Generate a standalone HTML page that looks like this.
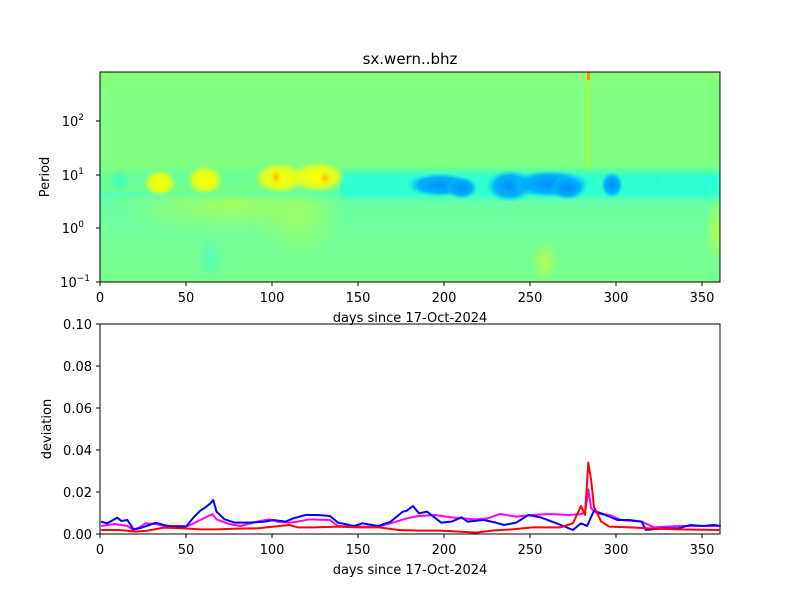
<!DOCTYPE html>
<html><head><meta charset="utf-8"><style>
body{margin:0;background:#fff;}
svg{display:block;font-family:"DejaVu Sans","Liberation Sans",sans-serif;}
</style></head><body>
<svg width="800" height="600" viewBox="0 0 800 600">
<defs>
<radialGradient id="gy"><stop offset="0" stop-color="#ffff00"/><stop offset="0.65" stop-color="#f0ff10" stop-opacity="0.85"/><stop offset="1" stop-color="#f0ff10" stop-opacity="0"/></radialGradient>
<radialGradient id="go"><stop offset="0" stop-color="#ffb400"/><stop offset="1" stop-color="#ffd000" stop-opacity="0"/></radialGradient>
<radialGradient id="gb"><stop offset="0" stop-color="#0090ff"/><stop offset="0.65" stop-color="#00a8ff" stop-opacity="0.9"/><stop offset="1" stop-color="#00d0ff" stop-opacity="0"/></radialGradient>
<radialGradient id="gc"><stop offset="0" stop-color="#20ffe0"/><stop offset="1" stop-color="#20ffe0" stop-opacity="0"/></radialGradient>
<radialGradient id="gyg"><stop offset="0" stop-color="#b0ff50"/><stop offset="1" stop-color="#b0ff50" stop-opacity="0"/></radialGradient>
<radialGradient id="gbg"><stop offset="0" stop-color="#50ffb8"/><stop offset="1" stop-color="#50ffb8" stop-opacity="0"/></radialGradient>
<linearGradient id="band" x1="0" y1="0" x2="0" y2="1"><stop offset="0" stop-color="#30ffd0" stop-opacity="0"/><stop offset="0.3" stop-color="#30ffd0"/><stop offset="0.75" stop-color="#30ffd0"/><stop offset="1" stop-color="#30ffd0" stop-opacity="0"/></linearGradient>
<linearGradient id="low" x1="0" y1="0" x2="0" y2="1"><stop offset="0" stop-color="#66ffa8"/><stop offset="0.5" stop-color="#74ff98"/><stop offset="1" stop-color="#78ff8c"/></linearGradient>
<clipPath id="c"><rect x="100" y="72" width="620" height="210"/></clipPath>
</defs>
<text x="410" y="64" font-size="15" text-anchor="middle">sx.wern..bhz</text>
<g clip-path="url(#c)">
<rect x="100" y="72" width="620" height="210" fill="#80ff80"/>
<rect x="100" y="72" width="620" height="10" fill="#88ff78"/>
<rect x="100" y="192" width="620" height="90" fill="url(#low)"/>
<ellipse cx="230" cy="205" rx="120" ry="30" fill="url(#gyg)" opacity="0.8"/>
<ellipse cx="300" cy="220" rx="45" ry="40" fill="url(#gyg)" opacity="0.6"/>
<ellipse cx="210" cy="258" rx="14" ry="22" fill="url(#gbg)"/>
<ellipse cx="545" cy="262" rx="14" ry="22" fill="url(#gyg)"/>
<ellipse cx="716" cy="230" rx="10" ry="35" fill="url(#gyg)"/>
<rect x="585" y="72" width="6" height="120" fill="#a0ff50" opacity="0.6"/>
<rect x="100" y="166" width="620" height="36" fill="url(#band)" opacity="0.3"/>
<rect x="340" y="166" width="380" height="36" fill="url(#band)"/>
<ellipse cx="120" cy="180" rx="10" ry="11" fill="url(#gc)" opacity="0.7"/>
<ellipse cx="160" cy="183" rx="16" ry="13" fill="url(#gy)"/>
<ellipse cx="205" cy="180" rx="18" ry="14" fill="url(#gy)"/>
<ellipse cx="280" cy="178" rx="26" ry="15" fill="url(#gy)"/>
<ellipse cx="318" cy="177" rx="28" ry="15" fill="url(#gy)"/>
<ellipse cx="276" cy="177" rx="6" ry="7" fill="url(#go)"/>
<ellipse cx="325" cy="178" rx="6" ry="6" fill="url(#go)"/>
<ellipse cx="440" cy="185" rx="34" ry="12" fill="url(#gb)"/>
<ellipse cx="462" cy="188" rx="16" ry="11" fill="url(#gb)"/>
<ellipse cx="510" cy="186" rx="24" ry="16" fill="url(#gb)"/>
<ellipse cx="550" cy="184" rx="40" ry="14" fill="url(#gb)"/>
<ellipse cx="568" cy="188" rx="18" ry="12" fill="url(#gb)"/>
<ellipse cx="612" cy="185" rx="11" ry="13" fill="url(#gb)"/>
<ellipse cx="655" cy="180" rx="8" ry="8" fill="url(#gc)"/>
<ellipse cx="710" cy="180" rx="8" ry="8" fill="url(#gc)"/>
<rect x="587" y="72" width="3" height="8" fill="#ff9000"/>
</g>
<rect x="100" y="72" width="620" height="210" fill="none" stroke="#000" stroke-width="1"/>
<g stroke="#000" stroke-width="1">
<line x1="100" y1="282" x2="100" y2="286"/><line x1="186" y1="282" x2="186" y2="286"/><line x1="272" y1="282" x2="272" y2="286"/><line x1="358" y1="282" x2="358" y2="286"/><line x1="444" y1="282" x2="444" y2="286"/><line x1="530" y1="282" x2="530" y2="286"/><line x1="616" y1="282" x2="616" y2="286"/><line x1="702" y1="282" x2="702" y2="286"/>
<line x1="96" y1="121" x2="100" y2="121"/><line x1="96" y1="175" x2="100" y2="175"/><line x1="96" y1="228" x2="100" y2="228"/><line x1="96" y1="282" x2="100" y2="282"/>
</g>
<g font-size="13" text-anchor="middle">
<text x="100" y="302">0</text><text x="186" y="302">50</text><text x="272" y="302">100</text><text x="358" y="302">150</text><text x="444" y="302">200</text><text x="530" y="302">250</text><text x="616" y="302">300</text><text x="702" y="302">350</text>
<text x="410" y="322">days since 17-Oct-2024</text>
</g>
<g font-size="13" text-anchor="end">
<text x="84" y="126">10<tspan font-size="9" dy="-6">2</tspan></text>
<text x="84" y="180">10<tspan font-size="9" dy="-6">1</tspan></text>
<text x="84" y="233">10<tspan font-size="9" dy="-6">0</tspan></text>
<text x="90" y="287">10<tspan font-size="9" dy="-6">−1</tspan></text>
</g>
<text transform="translate(49,177) rotate(-90)" font-size="13" text-anchor="middle">Period</text>

<rect x="100" y="324" width="620" height="210" fill="none" stroke="#000" stroke-width="1"/>
<g stroke="#000" stroke-width="1">
<line x1="100" y1="534" x2="100" y2="538"/><line x1="186" y1="534" x2="186" y2="538"/><line x1="272" y1="534" x2="272" y2="538"/><line x1="358" y1="534" x2="358" y2="538"/><line x1="444" y1="534" x2="444" y2="538"/><line x1="530" y1="534" x2="530" y2="538"/><line x1="616" y1="534" x2="616" y2="538"/><line x1="702" y1="534" x2="702" y2="538"/>
<line x1="96" y1="534" x2="100" y2="534"/><line x1="96" y1="492" x2="100" y2="492"/><line x1="96" y1="450" x2="100" y2="450"/><line x1="96" y1="408" x2="100" y2="408"/><line x1="96" y1="366" x2="100" y2="366"/><line x1="96" y1="324" x2="100" y2="324"/>
</g>
<g font-size="13" text-anchor="middle">
<text x="100" y="554">0</text><text x="186" y="554">50</text><text x="272" y="554">100</text><text x="358" y="554">150</text><text x="444" y="554">200</text><text x="530" y="554">250</text><text x="616" y="554">300</text><text x="702" y="554">350</text>
<text x="410" y="574">days since 17-Oct-2024</text>
</g>
<g font-size="13" text-anchor="end">
<text x="92" y="539">0.00</text><text x="92" y="497">0.02</text><text x="92" y="455">0.04</text><text x="92" y="413">0.06</text><text x="92" y="371">0.08</text><text x="92" y="329">0.10</text>
</g>
<text transform="translate(51,429) rotate(-90)" font-size="13" text-anchor="middle">deviation</text>

<g transform="translate(95,440) scale(0.405,0.3333)" fill="none" stroke-width="2" stroke-linejoin="round">
<polyline vector-effect="non-scaling-stroke" stroke="#ff00ff" points="15,258 50,252 80,258 95,270 110,262 125,250 150,252 170,258 230,258 260,240 290,222 300,238 330,252 360,258 400,245 430,238 450,245 480,248 500,245 530,238 580,240 600,258 640,260 700,260 730,250 770,235 800,228 840,225 880,232 940,238 970,235 1000,222 1040,230 1080,225 1120,222 1170,225 1200,222 1210,218 1218,148 1225,205 1240,220 1270,225 1300,240 1350,245 1380,262 1440,258 1500,258 1545,258"/>
<polyline vector-effect="non-scaling-stroke" stroke="#0000ff" points="15,245 30,250 55,233 65,243 80,240 95,268 110,265 130,257 150,248 170,255 190,260 225,260 245,230 260,212 275,200 285,190 292,180 300,215 320,238 345,248 380,248 420,245 440,240 470,245 490,235 520,225 550,225 580,228 600,248 640,258 660,250 700,258 730,245 760,215 770,212 785,198 800,220 820,215 855,248 880,245 905,232 920,245 960,240 990,248 1010,255 1040,248 1070,225 1100,232 1150,255 1180,270 1200,250 1215,258 1232,212 1260,225 1290,240 1320,240 1350,245 1360,270 1400,265 1440,265 1470,255 1500,258 1530,255 1545,258"/>
<polyline vector-effect="non-scaling-stroke" stroke="#ff0000" points="15,270 60,270 100,275 130,272 170,263 220,265 260,268 300,268 350,266 400,265 440,260 480,255 500,262 540,262 600,260 650,262 700,262 750,270 800,272 850,272 900,275 940,278 980,272 1030,268 1080,262 1150,262 1180,250 1200,198 1210,225 1218,68 1225,120 1232,200 1250,245 1270,260 1320,262 1380,266 1440,268 1545,270"/>
</g>
</svg>
</body></html>
